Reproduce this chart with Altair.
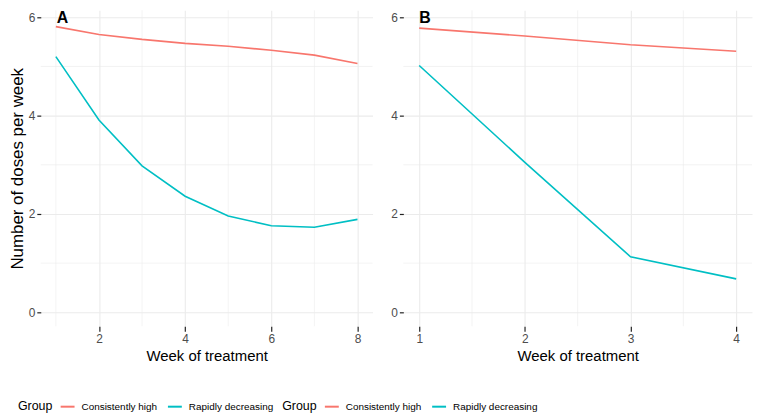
import altair as alt
import pandas as pd

# ---- data ----
groups = ["Consistently high", "Rapidly decreasing"]
colors = ["#F8766D", "#00BFC4"]

weeks_a = [1, 2, 3, 4, 5, 6, 7, 8]
high_a = [5.81, 5.65, 5.55, 5.47, 5.41, 5.33, 5.23, 5.06]
rapid_a = [5.20, 3.91, 2.98, 2.36, 1.96, 1.76, 1.73, 1.89]

weeks_b = [1, 2, 3, 4]
high_b = [5.78, 5.62, 5.44, 5.31]
rapid_b = [5.02, 3.05, 1.13, 0.68]

x_major_a = [2, 4, 6, 8]
x_minor_a = [1, 3, 5, 7]
x_major_b = [1, 2, 3, 4]
x_minor_b = [1.5, 2.5, 3.5]
y_major = [0, 2, 4, 6]
y_minor = [1, 3, 5]

SANS = "Liberation Sans, Arial, sans-serif"
GRID = "#EBEBEB"

H = 318
Y_DOMAIN = [-0.283, 6.141]


def long_df(weeks, high, rapid):
    rows = []
    for w, v in zip(weeks, high):
        rows.append({"week": w, "doses": v, "Group": groups[0]})
    for w, v in zip(weeks, rapid):
        rows.append({"week": w, "doses": v, "Group": groups[1]})
    return pd.DataFrame(rows)


def panel(df, width, x_domain, x_major, x_minor, tag, ytitle, legend_x):
    xscale = alt.Scale(domain=x_domain, nice=False, zero=False)
    yscale = alt.Scale(domain=Y_DOMAIN, nice=False, zero=False)

    yaxis = alt.Axis(
        values=y_major, grid=True, gridColor=GRID, gridWidth=1.1,
        domain=False, ticks=True, tickSize=4, tickColor="#222222", tickWidth=1.2,
        labelColor="#4D4D4D", labelFont=SANS, labelFontSize=12, labelPadding=2,
        title=ytitle if ytitle else "",
        titleFont=SANS, titleFontSize=17, titleFontWeight="normal",
        titleColor="#000000", titlePadding=2,
    )
    xaxis = alt.Axis(
        values=x_major, grid=True, gridColor=GRID, gridWidth=1.1,
        domain=False, ticks=True, tickSize=5, tickColor="#222222", tickWidth=1.2,
        labelColor="#4D4D4D", labelFont=SANS, labelFontSize=12, labelPadding=2,
        title="Week of treatment", titleFont=SANS, titleFontSize=15,
        titleFontWeight="normal", titleColor="#000000", titlePadding=5,
    )

    minor_x = alt.Chart(pd.DataFrame({"v": x_minor})).mark_rule(
        color=GRID, strokeWidth=0.6
    ).encode(x=alt.X("v:Q", scale=xscale, axis=xaxis))
    minor_y = alt.Chart(pd.DataFrame({"v": y_minor})).mark_rule(
        color=GRID, strokeWidth=0.6
    ).encode(y=alt.Y("v:Q", scale=yscale, axis=yaxis))

    lines = alt.Chart(df).mark_line(strokeWidth=1.6).encode(
        x=alt.X("week:Q", scale=xscale, axis=xaxis),
        y=alt.Y("doses:Q", scale=yscale, axis=yaxis),
        color=alt.Color(
            "Group:N",
            scale=alt.Scale(domain=groups, range=colors),
            legend=alt.Legend(
                orient="none", legendX=legend_x, legendY=391,
                direction="horizontal", titleOrient="left",
                title="Group", titleFont=SANS, titleFontSize=12.5,
                titleFontWeight="normal", titleColor="#000000", titlePadding=7,
                labelFont=SANS, labelFontSize=10, labelColor="#000000",
                symbolType="stroke", symbolSize=196, symbolStrokeWidth=2,
                labelOffset=6, columnPadding=6, padding=0,
            ),
        ),
    )

    tag_text = alt.Chart(pd.DataFrame({"t": [tag]})).mark_text(
        font=SANS, fontSize=16, fontWeight="bold", align="left",
        baseline="top", color="#000000",
    ).encode(x=alt.value(16), y=alt.value(0), text="t:N")

    return alt.layer(minor_x, minor_y, lines, tag_text).properties(
        width=width, height=H
    )


chart_a = panel(long_df(weeks_a, high_a, rapid_a), 334, [0.65, 8.35],
                x_major_a, x_minor_a, "A", "Number of doses per week", -23)
chart_b = panel(long_df(weeks_b, high_b, rapid_b), 351, [0.85, 4.15],
                x_major_b, x_minor_b, "B", None, -122)

chart = alt.hconcat(chart_a, chart_b, spacing=31, bounds="flush").resolve_legend(
    color="independent"
).properties(padding=0).configure_view(stroke=None)

chart.save("out.html", embed_options={"renderer": "svg", "actions": False})
